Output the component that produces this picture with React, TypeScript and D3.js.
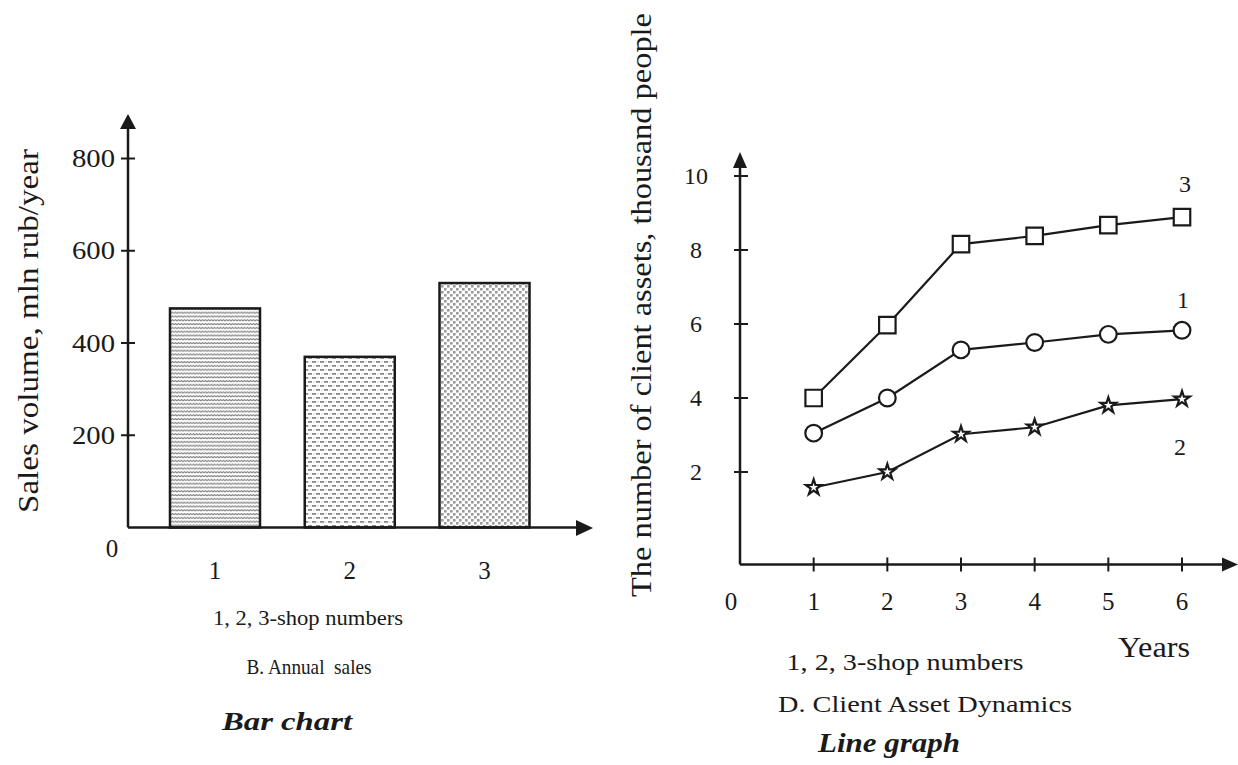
import React from "react";
import * as d3 from "d3";

// ---- data ----
const shops = ["1", "2", "3"];
const annualSales = [475, 370, 530];
const salesTicks = [200, 400, 600, 800];

const years = [1, 2, 3, 4, 5, 6];
const shop1Assets = [3.05, 4.0, 5.3, 5.5, 5.72, 5.83];
const shop2Assets = [1.58, 2.0, 3.02, 3.21, 3.8, 3.97];
const shop3Assets = [4.0, 5.97, 8.16, 8.38, 8.67, 8.89];
const assetTicks = [2, 4, 6, 8, 10];
const yearTicks = [1, 2, 3, 4, 5, 6];

const FONT = "'Liberation Serif', 'Times New Roman', serif";
const INK = "#1a1a1a";

export default function App() {
  // left chart scales
  const xBar = d3
    .scaleBand<string>()
    .domain(shops)
    .range([127, 572.5])
    .paddingInner(0.332)
    .paddingOuter(0.319);
  const yBar = d3.scaleLinear().domain([0, 800]).range([527.5, 158.5]);
  const barPatterns = ["pWave", "pDash", "pDots"];

  // right chart scales
  const xLine = d3.scaleLinear().domain([0, 6]).range([740, 1182]);
  const yLine = d3.scaleLinear().domain([-0.5, 10]).range([564.5, 176]);
  const lineGen = d3
    .line<number>()
    .x((_, i) => xLine(years[i]))
    .y((d) => yLine(d));

  const sq = d3.symbol().type(d3.symbolSquare).size(272)()!;
  const circ = d3.symbol().type(d3.symbolCircle).size(220)()!;
  const star = d3.symbol().type(d3.symbolStar).size(75)()!;

  const series = [
    { vals: shop3Assets, mark: sq },
    { vals: shop1Assets, mark: circ },
    { vals: shop2Assets, mark: star },
  ];

  const yB0 = yBar(0);
  const xL0 = xLine(0);
  const yL0 = yLine(-0.5);

  return (
    <svg
      width={1238}
      height={765}
      style={{ position: "absolute", left: 0, top: 0, background: "#fff" }}
      fontFamily={FONT}
    >
      <defs>
        <pattern id="pWave" width={6} height={3.8} patternUnits="userSpaceOnUse">
          <rect width={6} height={3.8} fill="#fff" />
          <path d="M0,1.6 L1.5,0.6 L3,1.6 L4.5,0.6 L6,1.6" stroke="#7a7a7a" strokeWidth={1.1} fill="none" />
        </pattern>
        <pattern id="pDash" width={8} height={8} patternUnits="userSpaceOnUse">
          <rect width={8} height={8} fill="#fff" />
          <rect x={0} y={1} width={4.2} height={1.8} fill="#8a8a8a" />
          <rect x={4} y={5} width={4.2} height={1.8} fill="#8a8a8a" />
          <rect x={5.5} y={1.5} width={1.2} height={1.2} fill="#c4c4c4" />
          <rect x={1.5} y={5.5} width={1.2} height={1.2} fill="#c4c4c4" />
        </pattern>
        <pattern id="pDots" width={6} height={6} patternUnits="userSpaceOnUse">
          <rect width={6} height={6} fill="#fff" />
          <rect x={0} y={0} width={2.6} height={2.6} fill="#9a9a9a" />
          <rect x={3} y={3} width={2.6} height={2.6} fill="#9a9a9a" />
        </pattern>
      </defs>

      {/* ===== LEFT: Bar chart ===== */}
      {shops.map((s, i) => (
        <rect
          key={s}
          x={xBar(s)}
          y={yBar(annualSales[i])}
          width={xBar.bandwidth()}
          height={yB0 - yBar(annualSales[i])}
          fill={`url(#${barPatterns[i]})`}
          stroke={INK}
          strokeWidth={2.5}
        />
      ))}
      {/* axes */}
      <line x1={128} y1={yB0} x2={128} y2={127} stroke={INK} strokeWidth={2.5} />
      <path d="M128,114 L120,129 L136,129 Z" fill={INK} />
      <line x1={128} y1={yB0} x2={578} y2={yB0} stroke={INK} strokeWidth={2.5} />
      <path d="M593,528 L576,520 L576,536 Z" fill={INK} />
      {salesTicks.map((t) => (
        <g key={t}>
          <line x1={121} x2={135} y1={yBar(t)} y2={yBar(t)} stroke={INK} strokeWidth={2} />
          <text x={115} y={yBar(t) + 8.5} textAnchor="end" fontSize={25} fill={INK} textLength={43} lengthAdjust="spacingAndGlyphs">
            {t}
          </text>
        </g>
      ))}
      <text x={112} y={557} textAnchor="middle" fontSize={25} fill={INK}>0</text>
      {shops.map((s) => (
        <text key={s} x={xBar(s)! + xBar.bandwidth() / 2} y={579} textAnchor="middle" fontSize={25} fill={INK}>
          {s}
        </text>
      ))}
      <text
        transform="translate(38,331) rotate(-90)"
        textAnchor="middle"
        fontSize={30}
        fill={INK}
        textLength={364}
        lengthAdjust="spacingAndGlyphs"
      >
        Sales volume, mln rub/year
      </text>
      <text x={308} y={625} textAnchor="middle" fontSize={22} fill={INK} textLength={190} lengthAdjust="spacingAndGlyphs">
        1, 2, 3-shop numbers
      </text>
      <text x={309} y={674} textAnchor="middle" fontSize={22} fill={INK} textLength={125} lengthAdjust="spacingAndGlyphs" xmlSpace="preserve">
        B. Annual  sales
      </text>
      <text x={287} y={730} textAnchor="middle" fontSize={26} fontWeight="bold" fontStyle="italic" fill={INK} textLength={130} lengthAdjust="spacingAndGlyphs">
        Bar chart
      </text>

      {/* ===== RIGHT: Line graph ===== */}
      <line x1={xL0} y1={yL0} x2={xL0} y2={166} stroke={INK} strokeWidth={2.5} />
      <path d={`M${xL0},152 L${xL0 - 7},168 L${xL0 + 7},168 Z`} fill={INK} />
      <line x1={xL0} y1={yL0} x2={1224} y2={yL0} stroke={INK} strokeWidth={2.5} />
      <path d={`M1238,${yL0} L1222,${yL0 - 7} L1222,${yL0 + 7} Z`} fill={INK} />
      {assetTicks.map((t) => (
        <g key={t}>
          <line x1={734} x2={748} y1={yLine(t)} y2={yLine(t)} stroke={INK} strokeWidth={2} />
          <text x={696} y={yLine(t) + 8} textAnchor="middle" fontSize={24} fill={INK}>
            {t}
          </text>
        </g>
      ))}
      {yearTicks.map((t) => (
        <g key={t}>
          <line x1={xLine(t)} x2={xLine(t)} y1={yL0 - 7} y2={yL0 + 7} stroke={INK} strokeWidth={2} />
          <text x={xLine(t)} y={610} textAnchor="middle" fontSize={25} fill={INK}>
            {t}
          </text>
        </g>
      ))}
      <text x={731} y={610} textAnchor="middle" fontSize={25} fill={INK}>0</text>
      <text x={1154} y={657} textAnchor="middle" fontSize={29} fill={INK} textLength={72} lengthAdjust="spacingAndGlyphs">
        Years
      </text>

      {series.map((s, k) => (
        <g key={k}>
          <path d={lineGen(s.vals)!} fill="none" stroke={INK} strokeWidth={2.2} />
          {s.vals.map((v, i) => (
            <path
              key={i}
              d={s.mark}
              transform={`translate(${xLine(years[i])},${yLine(v)})`}
              fill="#fff"
              stroke={INK}
              strokeWidth={2.2}
            />
          ))}
        </g>
      ))}
      <text x={1185} y={192} textAnchor="middle" fontSize={24} fill={INK}>3</text>
      <text x={1183} y={308} textAnchor="middle" fontSize={24} fill={INK}>1</text>
      <text x={1180} y={455} textAnchor="middle" fontSize={24} fill={INK}>2</text>

      <text
        transform="translate(651,305) rotate(-90)"
        textAnchor="middle"
        fontSize={30}
        fill={INK}
        textLength={584}
        lengthAdjust="spacingAndGlyphs"
      >
        The number of client assets, thousand people
      </text>
      <text x={905} y={670} textAnchor="middle" fontSize={24} fill={INK} textLength={237} lengthAdjust="spacingAndGlyphs">
        1, 2, 3-shop numbers
      </text>
      <text x={925} y={712} textAnchor="middle" fontSize={24} fill={INK} textLength={294} lengthAdjust="spacingAndGlyphs">
        D. Client Asset Dynamics
      </text>
      <text x={889} y={752} textAnchor="middle" fontSize={27} fontWeight="bold" fontStyle="italic" fill={INK} textLength={142} lengthAdjust="spacingAndGlyphs">
        Line graph
      </text>
    </svg>
  );
}
